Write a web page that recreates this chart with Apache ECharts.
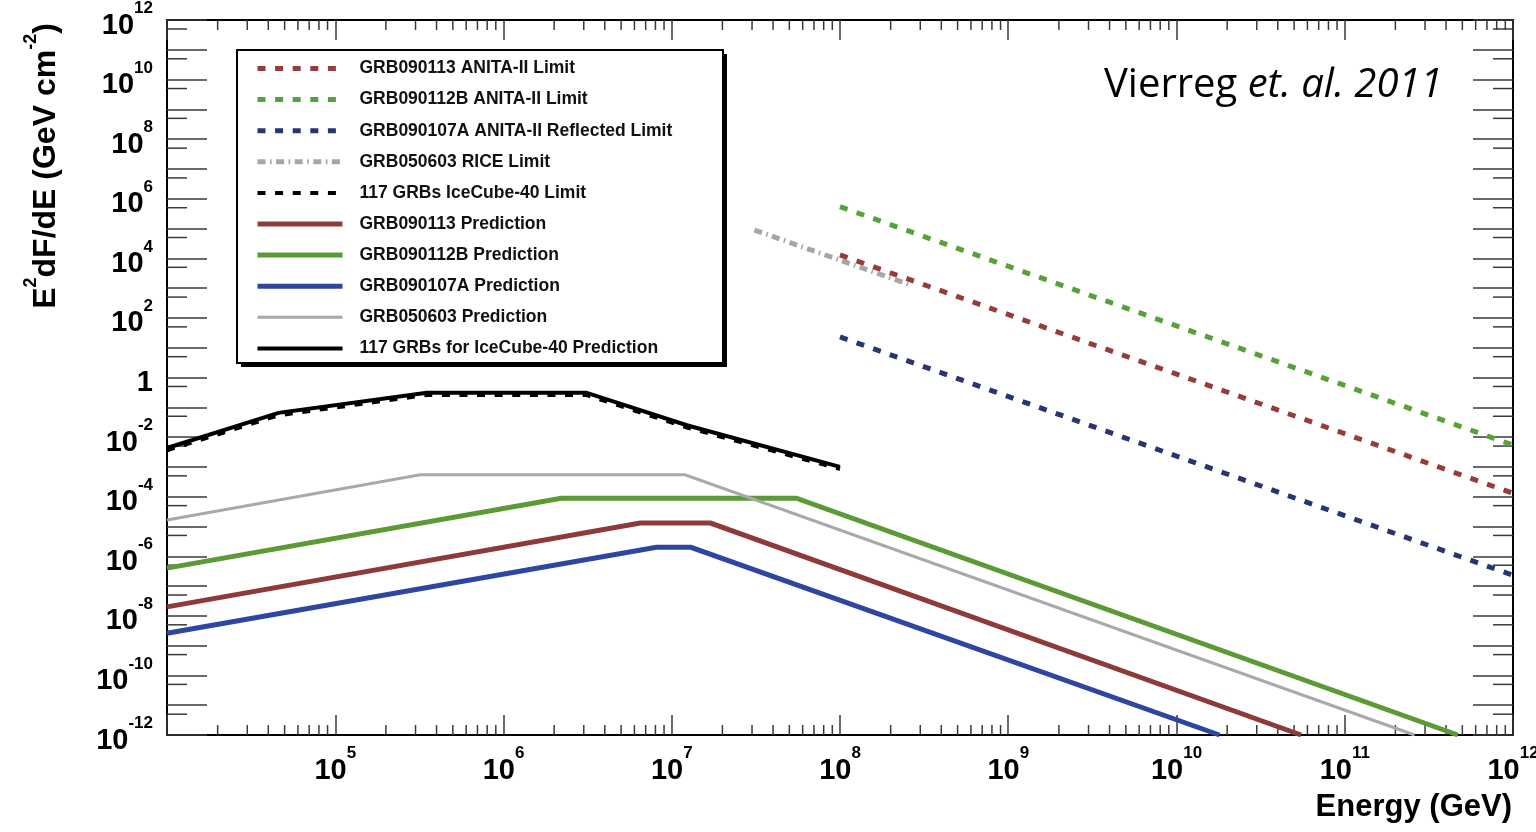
<!DOCTYPE html>
<html>
<head>
<meta charset="utf-8">
<script src="https://cdn.jsdelivr.net/npm/echarts@6/dist/echarts.min.js"></script>
<style>
  html, body { margin: 0; padding: 0; background: #fff; }
  #chart { width: 1536px; height: 832px; }
</style>
</head>
<body>
<div id="chart"></div>
<script>
// Spectra: [energy (GeV), E^2 dF/dE (GeV cm^-2)] at each corner of the broken power laws
const grb090113Prediction  = [[1e4, 2.0e-8], [6.5e6, 1.3e-5], [1.7e7, 1.3e-5], [5.5e10, 1e-12]];
const grb090112bPrediction = [[1e4, 4.0e-7], [2.2e6, 8.9e-5], [5.5e7, 8.9e-5], [4.7e11, 1e-12]];
const grb090107aPrediction = [[1e4, 2.6e-9], [8.1e6, 2.0e-6], [1.3e7, 2.0e-6], [1.8e10, 1e-12]];
const grb050603Prediction  = [[1e4, 1.66e-5], [3.2e5, 5.4e-4], [1.2e7, 5.4e-4], [2.6e11, 1e-12]];
const iceCube40Prediction  = [[1e4, 4.3e-3], [4.6e4, 6.5e-2], [3.5e5, 0.31], [3.1e6, 0.31], [1.23e7, 2.5e-2], [1e8, 1.0e-3]];

// Upper limits
const grb090113Limit     = [[1e8, 1.3e4], [1e12, 1.3e-4]];
const grb090112bLimit    = [[1e8, 5.4e5], [1e12, 5.4e-3]];
const grb090107aLimit    = [[1e8, 23], [1e12, 2.3e-7]];
const grb050603RiceLimit = [[3.1e7, 8.9e4], [2.6e8, 1.3e3]];
const iceCube40Limit     = [[1e4, 3.6e-3], [4.6e4, 5.4e-2], [3.5e5, 0.26], [3.1e6, 0.26], [1.23e7, 2.1e-2], [1e8, 8.5e-4]];

// Axis ranges and tick layout
const xMin = 1e4, xMax = 1e12, yMin = 1e-12, yMax = 1e12;
const xDecades = [4, 5, 6, 7, 8, 9, 10, 11];
const xMinorMultipliers = [2, 3, 4, 5, 6, 7, 8, 9];
const yDecades = [-12, -11, -10, -9, -8, -7, -6, -5, -4, -3, -2, -1, 0, 1, 2, 3, 4, 5, 6, 7, 8, 9, 10, 11];
const yMinorMultipliers = [5];
const xUnlabelledExponents = [4];

const FONT = 'Liberation Sans, Arial, Helvetica, sans-serif';
const TICK_COLOR = '#3a3a3a';

const xMinorTicks = [];
xDecades.forEach(d => xMinorMultipliers.forEach(m => xMinorTicks.push(m * Math.pow(10, d))));
const yMinorTicks = [];
yDecades.forEach(d => yMinorMultipliers.forEach(m => yMinorTicks.push(m * Math.pow(10, d))));

function powerLabel(v) {
  const e = Math.round(Math.log10(v));
  return e === 0 ? '{b|1}' : '{b|10}{s|' + e + '}';
}

const labelRich = {
  b: { fontFamily: FONT, fontWeight: 'bold', fontSize: 29, lineHeight: 40, color: '#000', verticalAlign: 'bottom' },
  s: { fontFamily: FONT, fontWeight: 'bold', fontSize: 17, lineHeight: 17, color: '#000', verticalAlign: 'top' }
};

function logXAxis(position, showLabels) {
  return {
    type: 'log', logBase: 10, min: xMin, max: xMax, interval: 1, position: position,
    axisLine: { show: true, onZero: false, lineStyle: { color: '#000', width: 2 } },
    axisTick: { show: true, inside: true, length: 20, lineStyle: { color: TICK_COLOR, width: 1.5 } },
    axisLabel: {
      show: showLabels, margin: 10, rich: labelRich,
      formatter: v => xUnlabelledExponents.indexOf(Math.round(Math.log10(v))) >= 0 ? '' : powerLabel(v)
    },
    splitLine: { show: false }, minorTick: { show: false }
  };
}

function logYAxis(position, showLabels) {
  return {
    type: 'log', logBase: 10, min: yMin, max: yMax, interval: 1, position: position,
    axisLine: { show: true, onZero: false, lineStyle: { color: '#000', width: 2 } },
    axisTick: { show: true, inside: true, length: 40, lineStyle: { color: TICK_COLOR, width: 1.5 } },
    axisLabel: {
      show: showLabels, margin: 14, rich: labelRich, align: 'right',
      formatter: v => (Math.round(Math.log10(v)) % 2 !== 0) ? '' : powerLabel(v)
    },
    splitLine: { show: false }, minorTick: { show: false }
  };
}

// Short ticks drawn on both opposite frame edges, positioned by the log scales
function minorTickSeries(values, alongX) {
  return {
    type: 'custom', silent: true, z: 3, clip: false,
    xAxisIndex: 0, yAxisIndex: 0,
    data: values.map(v => alongX ? [v, yMin] : [xMin, v]),
    encode: { x: 0, y: 1 },
    renderItem(params, api) {
      const v = api.value(alongX ? 0 : 1);
      const len = alongX ? 10 : 20;
      const a = api.coord(alongX ? [v, yMin] : [xMin, v]);
      const b = api.coord(alongX ? [v, yMax] : [xMax, v]);
      const style = { stroke: TICK_COLOR, lineWidth: 1.5 };
      const children = alongX ? [
        { type: 'line', shape: { x1: a[0], y1: a[1], x2: a[0], y2: a[1] - len }, style },
        { type: 'line', shape: { x1: b[0], y1: b[1], x2: b[0], y2: b[1] + len }, style }
      ] : [
        { type: 'line', shape: { x1: a[0], y1: a[1], x2: a[0] + len, y2: a[1] }, style },
        { type: 'line', shape: { x1: b[0], y1: b[1], x2: b[0] - len, y2: b[1] }, style }
      ];
      return { type: 'group', children };
    }
  };
}

function lineSeries(name, data, color, width, dash) {
  return {
    name, type: 'line', data, xAxisIndex: 0, yAxisIndex: 0,
    symbol: 'none', showSymbol: false, smooth: false, clip: true,
    lineStyle: { color, width, type: dash || 'solid', cap: 'butt', join: 'miter' },
    itemStyle: { color },
    emphasis: { disabled: true }
  };
}

const DOTS = [8, 9.6];
const legendNames = [
  'GRB090113 ANITA-II Limit',
  'GRB090112B ANITA-II Limit',
  'GRB090107A ANITA-II Reflected Limit',
  'GRB050603 RICE Limit',
  '117 GRBs IceCube-40 Limit',
  'GRB090113 Prediction',
  'GRB090112B Prediction',
  'GRB090107A Prediction',
  'GRB050603 Prediction',
  '117 GRBs for IceCube-40 Prediction'
];

const series = [
  lineSeries(legendNames[5], grb090113Prediction, '#8e3a3a', 5),
  lineSeries(legendNames[6], grb090112bPrediction, '#5b9a35', 5),
  lineSeries(legendNames[7], grb090107aPrediction, '#2f45a2', 5),
  lineSeries(legendNames[8], grb050603Prediction, '#a9a9a9', 3),
  lineSeries(legendNames[9], iceCube40Prediction, '#000000', 4),
  lineSeries(legendNames[0], grb090113Limit, '#963c3c', 5, DOTS),
  lineSeries(legendNames[1], grb090112bLimit, '#58a13a', 5, DOTS),
  lineSeries(legendNames[2], grb090107aLimit, '#2a3470', 5, DOTS),
  lineSeries(legendNames[3], grb050603RiceLimit, '#a6a6a6', 5, [8, 4.5, 1.6, 4.5]),
  lineSeries(legendNames[4], iceCube40Limit, '#000000', 4, DOTS),
  minorTickSeries(xMinorTicks, true),
  minorTickSeries(yMinorTicks, false)
];

const chart = echarts.init(document.getElementById('chart'), null, { renderer: 'canvas' });
chart.setOption({
  animation: false,
  backgroundColor: '#ffffff',
  grid: { left: 167, top: 20, right: 23, bottom: 97, containLabel: false, outerBoundsMode: 'none' },
  xAxis: [logXAxis('bottom', true), logXAxis('top', false)],
  yAxis: [logYAxis('left', true), logYAxis('right', false)],
  legend: {
    data: legendNames,
    orient: 'vertical', left: 255, top: 59.5, padding: 0, z: 20,
    itemWidth: 85, itemHeight: 17, itemGap: 13.1,
    selectedMode: false,
    itemStyle: { opacity: 0 },
    lineStyle: { width: 'inherit' },
    textStyle: { fontFamily: FONT, fontWeight: 'bold', fontSize: 17.5, lineHeight: 17, color: '#111', padding: [0, 0, 0, 12] }
  },
  graphic: [
    { type: 'rect', z: 15, shape: { x: 241, y: 54, width: 486, height: 313 }, style: { fill: '#000' } },
    { type: 'rect', z: 16, shape: { x: 237, y: 50, width: 486, height: 313 }, style: { fill: '#fff', stroke: '#000', lineWidth: 2 } },
    {
      type: 'text', z: 16, x: 1104, y: 86,
      style: {
        text: '{n|Vierreg }{i|et. al. 2011}', align: 'left', verticalAlign: 'middle',
        rich: {
          n: { fontFamily: 'Open Sans', fontSize: 40, fill: '#000' },
          i: { fontFamily: 'Open Sans', fontSize: 40, fontStyle: 'italic', fill: '#000' }
        }
      }
    },
    {
      type: 'text', z: 16, x: 1512, y: 807,
      style: { text: 'Energy (GeV)', fontFamily: FONT, fontWeight: 'bold', fontSize: 31, fill: '#000', align: 'right', verticalAlign: 'middle' }
    },
    {
      type: 'text', z: 16, x: 42, y: 166, rotation: Math.PI / 2,
      style: {
        text: '{b|E}{s|2}{b|dF/dE (GeV cm}{s|-2}{b|)}', align: 'center', verticalAlign: 'middle',
        rich: {
          b: { fontFamily: FONT, fontWeight: 'bold', fontSize: 32, lineHeight: 40, fill: '#000', verticalAlign: 'bottom' },
          s: { fontFamily: FONT, fontWeight: 'bold', fontSize: 18, lineHeight: 18, fill: '#000', verticalAlign: 'top' }
        }
      }
    }
  ],
  series
});
</script>
</body>
</html>
